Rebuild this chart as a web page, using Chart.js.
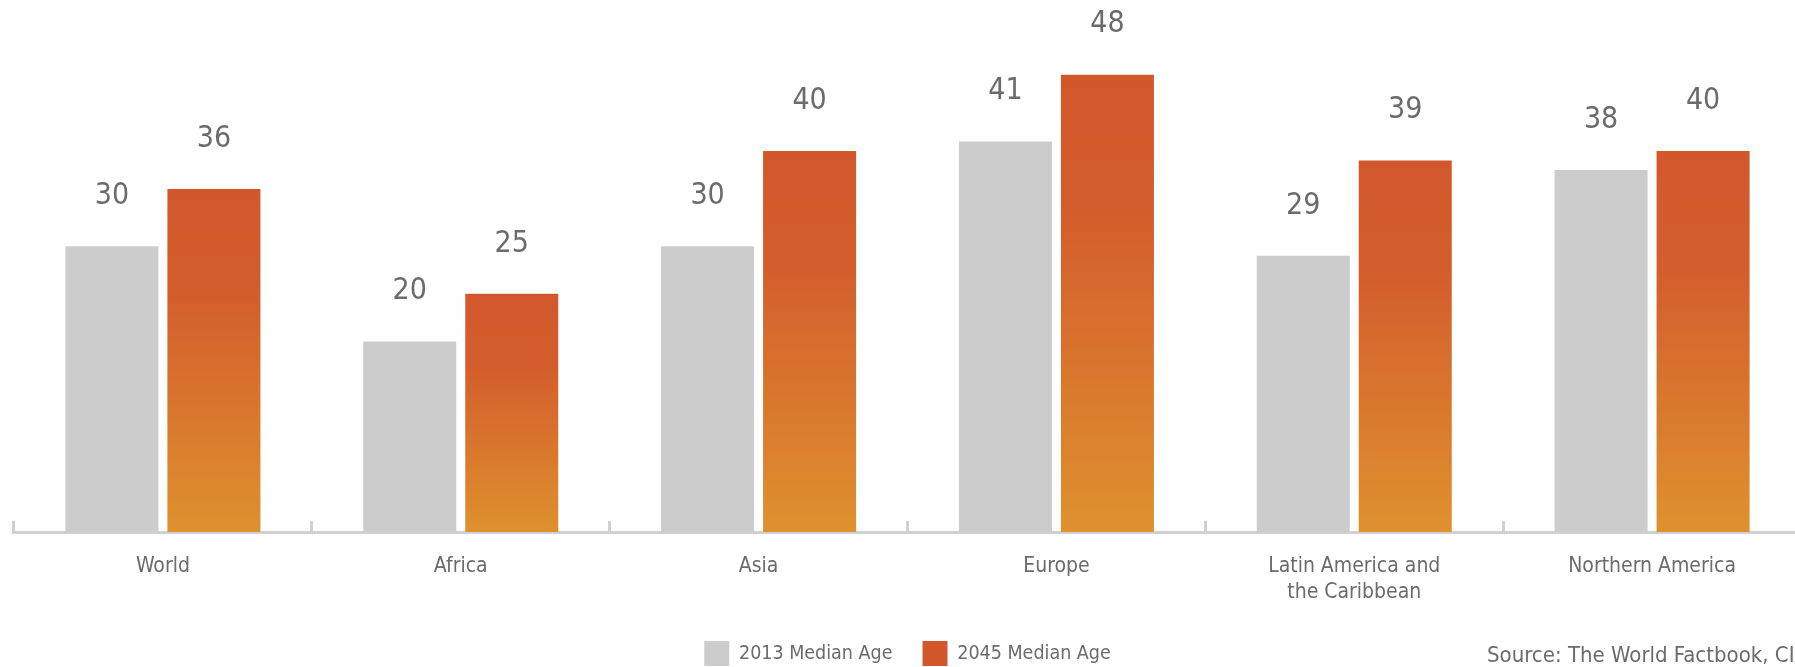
<!DOCTYPE html>
<html>
<head>
<meta charset="utf-8">
<script src="https://cdn.jsdelivr.net/npm/chart.js@4.4.1/dist/chart.umd.min.js"></script>
<style>
  html, body { margin: 0; padding: 0; background: #fff; overflow: hidden; }
  #wrap { position: relative; width: 1815px; height: 676px; }
  #source {
    position: absolute; left: 1487px; top: 642px; white-space: nowrap;
    font-family: 'DejaVu Sans Condensed', 'DejaVu Sans', sans-serif;
    font-size: 22px; color: #6b6b6b;
  }
</style>
</head>
<body>
<div id="wrap">
  <canvas id="age-chart" width="1815" height="676"></canvas>
  <div id="source">Source: The World Factbook, CIA</div>
</div>
<script>
let regions = ["World", "Africa", "Asia", "Europe", ["Latin America and", "the Caribbean"], "Northern America"];
let age2013 = [30, 20, 30, 41, 29, 38];
let age2045 = [36, 25, 40, 48, 39, 40];

let fontFamily = "'DejaVu Sans Condensed', 'DejaVu Sans', sans-serif";
let textColor = "#6b6b6b";

// each orange bar gets its own red-to-orange gradient, top to bottom
function barGradient(context) {
    let chart = context.chart;
    if (!chart.chartArea || context.type !== "data") return "#d2582b";
    let y = chart.scales.y;
    let top = y.getPixelForValue(context.raw);
    let bottom = y.getPixelForValue(0);
    if (!isFinite(top) || bottom - top < 1) return "#d2582b";
    let g = chart.ctx.createLinearGradient(0, top, 0, bottom);
    g.addColorStop(0, "#d2582b");
    g.addColorStop(0.3, "#d35d2c");
    g.addColorStop(1, "#de912e");
    return g;
}

let valueLabels = {
    id: "valueLabels",
    afterDatasetsDraw(chart) {
        let ctx = chart.ctx;
        ctx.save();
        ctx.font = "30px " + fontFamily;
        ctx.fillStyle = textColor;
        ctx.textAlign = "center";
        ctx.textBaseline = "middle";
        chart.data.datasets.forEach((ds, i) => {
            chart.getDatasetMeta(i).data.forEach((bar, j) => {
                ctx.fillText(ds.data[j], bar.x, bar.y - 50);
            });
        });
        ctx.restore();
    }
};

let data = {
    labels: regions,
    datasets: [{
        label: "2013 Median Age",
        data: age2013,
        backgroundColor: "#cccccc"
    }, {
        label: "2045 Median Age",
        data: age2045,
        backgroundColor: barGradient
    }]
};

let options = {
    responsive: false,
    animation: false,
    layout: { padding: { left: 14, right: 14, top: 8, bottom: 0 } },
    datasets: {
        bar: { categoryPercentage: 0.685, barPercentage: 0.912 }
    },
    scales: {
        x: {
            grid: {
                display: true,
                drawOnChartArea: false,
                offset: true,
                color: "#d0d0d0",
                lineWidth: 3,
                tickLength: -11
            },
            border: { display: true, color: "#d0d0d0", width: 3 },
            ticks: {
                padding: 33,
                color: textColor,
                font: { family: fontFamily, size: 21, lineHeight: "26px" }
            },
            afterFit: (scale) => { scale.height -= 28; }
        },
        y: {
            display: false,
            min: 0,
            max: 55
        }
    },
    plugins: {
        legend: {
            position: "bottom",
            labels: {
                boxWidth: 25,
                boxHeight: 25,
                padding: 30,
                color: textColor,
                font: { family: fontFamily, size: 19.5 },
                generateLabels: (chart) => chart.data.datasets.map((ds, i) => ({
                    text: ds.label,
                    fillStyle: i === 0 ? "#cccccc" : "#d2582b",
                    strokeStyle: "rgba(0,0,0,0)",
                    lineWidth: 0,
                    fontColor: textColor,
                    datasetIndex: i
                }))
            }
        },
        tooltip: { enabled: false }
    }
};

let ageChart = new Chart(document.getElementById("age-chart"), {
    type: "bar",
    data: data,
    options: options,
    plugins: [valueLabels]
});
</script>
</body>
</html>
